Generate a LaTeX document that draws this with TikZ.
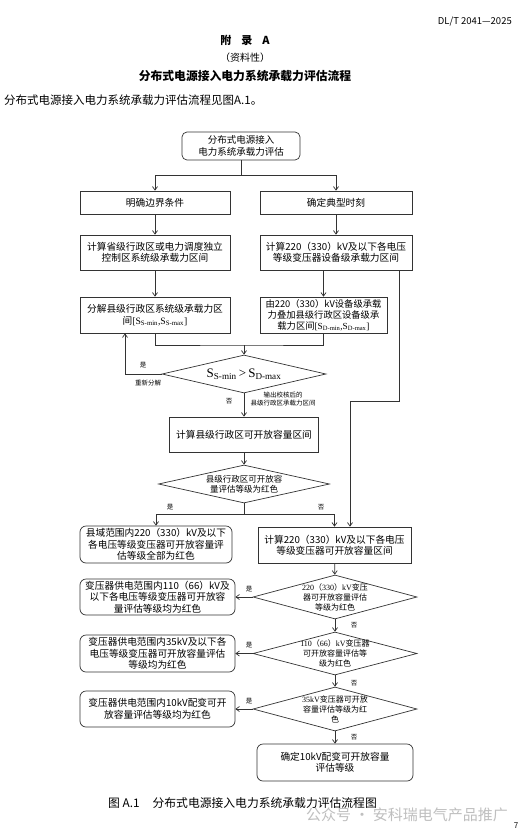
\documentclass[tikz,border=0pt]{standalone}
\usepackage{fontspec}
\setmainfont{Noto Sans CJK SC}
\newfontfamily\tms{Liberation Serif}
\usetikzlibrary{shapes.geometric,arrows.meta}
\newcommand{\tn}[1]{{\tms #1}}
\newcommand{\Sv}[1]{S\textsubscript{#1}}

\begin{document}
\begin{tikzpicture}[x=1pt, y=-1pt, >={Straight Barb[length=3.5pt,width=5pt]},
  line/.style={draw=black!80, line width=0.7pt},
  every node/.style={inner sep=0pt, align=center, font=\fontsize{9.7}{11.5}\selectfont},
  box/.style={line, minimum width=150, minimum height=36},
  rbox/.style={box, rounded corners=6pt},
  dia/.style={line, diamond, minimum width=164, minimum height=44},
  small/.style={font=\fontsize{8}{10}\selectfont},
  lbl/.style={font=\fontsize{6.5}{8}\selectfont}]
\useasboundingbox[fill=white] (0,0) rectangle (521,836);

\node[anchor=east, font=\fontsize{9.5}{10}\selectfont] (std) at (512,22) {DL/T 2041—2025};
\node[font=\bfseries\fontsize{11}{12}\selectfont] (app) at (245,40) {附\hspace{0.9em}录\hspace{0.9em}A};
\node[font=\fontsize{10}{12}\selectfont] (kind) at (245,58) {（资料性）};
\node[font=\bfseries\fontsize{11.8}{12}\selectfont] (title) at (245,76) {分布式电源接入电力系统承载力评估流程};
\node[anchor=west, font=\fontsize{11.5}{12}\selectfont] (intro) at (4,100) {分布式电源接入电力系统承载力评估流程见图A.1。};

\node[rbox, minimum width=118, minimum height=28, rounded corners=5pt, font=\fontsize{9.5}{12.5}\selectfont] (start) at (241,146) {分布式电源接入\\电力系统承载力评估};
\node[box, minimum height=23] (bound) at (155,202.5) {明确边界条件};
\node[box, minimum width=152, minimum height=23] (typical) at (336,202.5) {确定典型时刻};
\node[box, minimum height=35] (sysL) at (155,252.5) {计算省级行政区或电力调度独立\\控制区系统级承载力区间};
\node[box, minimum width=152, minimum height=35] (devR) at (336,252.5) {计算220（330）kV及以下各电压\\等级变压器设备级承载力区间};
\node[box] (decL) at (155,315) {分解县级行政区系统级承载力区\\间{\tms[\Sv{S-min},\Sv{S-max}]}};
\node[box, minimum width=127, font=\fontsize{9.3}{11}\selectfont] (decR) at (323.5,315) {由220（330）kV设备级承载\\力叠加县级行政区设备级承\\载力区间{\tms[\Sv{D-min},\Sv{D-max}]}};
\node[dia, minimum height=38] (chk) at (244,374) {};
\node[font=\tms\fontsize{13}{13}\selectfont] (chktext) at (chk) {\Sv{S-min}\,>\,\Sv{D-max}};
\node[box, minimum width=149, minimum height=35] (county) at (244,434.5) {计算县级行政区可开放容量区间};
\node[dia, minimum width=171, minimum height=38] (red) at (244,484) {};
\node[font=\fontsize{8.5}{10}\selectfont] (redtext) at (red) {县级行政区可开放容\\量评估等级为红色};
\node[rbox, minimum width=152, minimum height=37] (allred) at (156,544.5) {县域范围内220（330）kV及以下\\各电压等级变压器可开放容量评\\估等级全部为红色};
\node[box, minimum width=153] (openR) at (334.5,545) {计算220（330）kV及以下各电压\\等级变压器可开放容量区间};
\node[dia] (d1) at (335,597) {};
\node[small] (d1text) at (d1) {\tn{220}（\tn{330}）\tn{kV}变压\\器可开放容量评估\\等级为红色};
\node[rbox, minimum width=155] (b1) at (157.5,597) {变压器供电范围内110（66）kV及\\以下各电压等级变压器可开放容\\量评估等级均为红色};
\node[dia, minimum height=43] (d2) at (335,653.5) {};
\node[small] (d2text) at (d2) {\tn{110}（\tn{66}）\tn{kV}变压器\\可开放容量评估等\\级为红色};
\node[rbox, minimum width=155, minimum height=37] (b2) at (157.5,653.5) {变压器供电范围内35kV及以下各\\电压等级变压器可开放容量评估\\等级均为红色};
\node[dia] (d3) at (335,709) {};
\node[small] (d3text) at (d3) {\tn{35kV}变压器可开放\\容量评估等级为红\\色};
\node[rbox, minimum width=155] (b3) at (157.5,709) {变压器供电范围内10kV配变可开\\放容量评估等级均为红色};
\node[rbox, minimum width=156, minimum height=37] (final) at (335,762.5) {确定10kV配变可开放容量\\评估等级};

\coordinate (split1) at (241,175);
\coordinate (merge) at (244,345);
\coordinate (bypass) at (350,401);
\coordinate (split2) at (244,514);

\draw[line] (start) -- (split1);
\draw[line,->] (split1) -| (bound.north);
\draw[line,->] (split1) -| (typical.north);
\draw[line] (decL.south) |- (merge) -| (decR.south);
\draw[line,->] (chk.west) -| ([xshift=-30pt]decL.south);
\draw[line] (red.south) -- (split2);
\draw[line,->] (split2) -| (allred.north);
\draw[line,->] (split2) -| (openR.north);
\draw[line,->] ([xshift=-13pt]devR.south east) |- (bypass) -- (bypass |- openR.north);
\draw[line]
	(bound) edge[->] (sysL)
	(typical) edge[->] (devR)
	(sysL) edge[->] (decL)
	(devR.south -| decR.north) edge[->] (decR.north)
	(merge) edge[->] (chk.north)
	(chk) edge[->] (county)
	(county) edge[->] (red)
	(openR) edge[->] (d1)
	(d1) edge[->] (b1)
	(d1) edge[->] (d2)
	(d2) edge[->] (b2)
	(d2) edge[->] (d3)
	(d3) edge[->] (b3)
	(d3) edge[->] (final)
;

\node[lbl] (yes0) at (143,365) {是};
\node[lbl] (redo) at (148,383) {重新分解};
\node[lbl] (no0) at (229,401) {否};
\node[lbl] (out) at (283,399) {输出校核后的\\县级行政区承载力区间};
\node[lbl] (yes1) at (170,507) {是};
\node[lbl] (no1) at (321,507) {否};
\node[lbl] (yes2) at (249,589) {是};
\node[lbl] (no2) at (354,625) {否};
\node[lbl] (yes3) at (249,645) {是};
\node[lbl] (no3) at (354,683) {否};
\node[lbl] (yes4) at (249,701) {是};
\node[lbl] (no4) at (354,737) {否};

\node[anchor=west, font=\fontsize{11.8}{12}\selectfont] (cap) at (108,803) {图 A.1\hspace{1.1em}分布式电源接入电力系统承载力评估流程图};
\node[anchor=west, text=black!25, font=\fontsize{15}{16}\selectfont] (wm) at (306,815) {公众号 · 安科瑞电气产品推广};
\node[font=\fontsize{8}{9}\selectfont] (page) at (516,826) {7};
\end{tikzpicture}
\end{document}
